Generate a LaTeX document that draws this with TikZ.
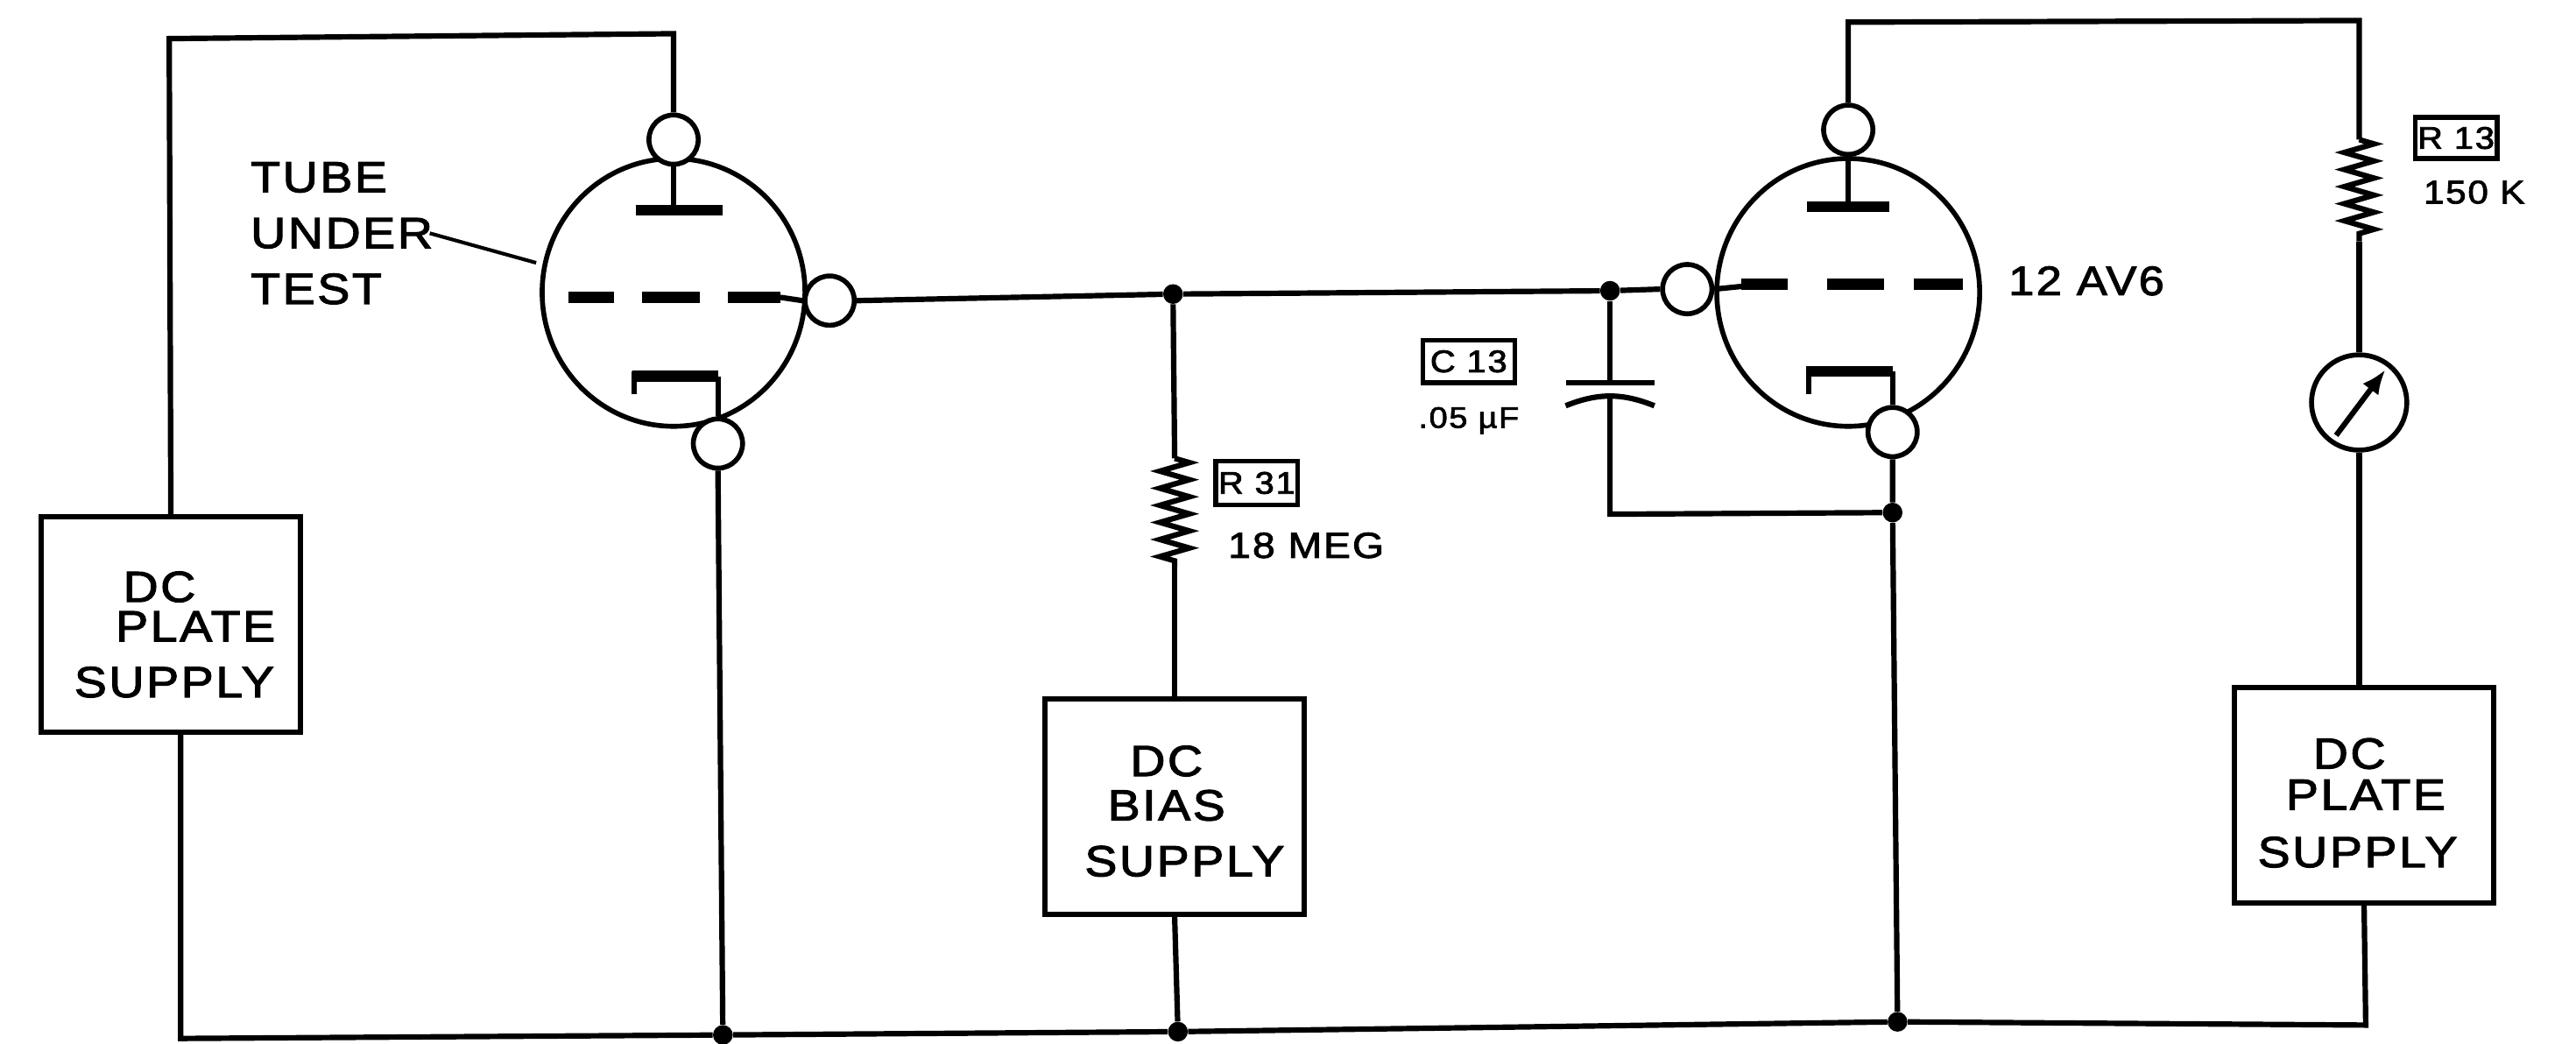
\documentclass[tikz,border=0pt]{standalone}
\usepackage{fontspec}
\setmainfont[FakeStretch=1.12,LetterSpace=5,FakeBold=2.2]{Liberation Sans}
\usepackage{tikz}
\usetikzlibrary{shapes, arrows, arrows.meta}
\usetikzlibrary{positioning, decorations.pathmorphing}
\tikzstyle{wire} = [line width = 3.3]
\tikzstyle{tube} = [
  ellipse, minimum width = 160, minimum height = 163, inner sep = 0,
  line width = 3, draw = black
]
\tikzstyle{lead} = [
  circle, minimum size = 30, inner sep = 0, line width = 3, draw = black,
  fill = white
]
\tikzstyle{dot} = [circle, minimum size = 12, inner sep = 0, fill = black]
\tikzstyle{supply} = [
  rectangle, minimum width = 158, minimum height = 131, inner sep = 0,
  line width = 3.3, draw = black, text centered, align = center,
  font = \fontsize{26.5}{31}\selectfont
]
\tikzstyle{tag} = [
  rectangle, inner sep = 0, line width = 2.8, draw = black, text centered,
  font = \fontsize{19}{23}\selectfont
]
\tikzstyle{textarea} = [
  rectangle, inner sep = 0, align = left,
  font = \fontsize{26.5}{34}\selectfont
]
\tikzstyle{value} = [
  rectangle, inner sep = 0, font = \fontsize{20}{24}\selectfont
]
\tikzstyle{bar} = [line width = 6.5]
\tikzstyle{coil} = [
  wire, decorate,
  decoration = {zigzag, segment length = 10.4, amplitude = 9}
]

\begin{document}
\begin{tikzpicture}[node distance = 0, x = 1pt, y = 1pt]
    \useasboundingbox (0, 0) rectangle (1568, -635);
    % tube-0
    \node [tube] (tube-0) at (410, -178) {};
    \node [lead, above of = tube-0, yshift = 93] (lead-0-a) {};
    \node [lead, below of = tube-0, xshift = 27, yshift = -92] (lead-0-b) {};
    \node [lead, right of = tube-0, xshift = 95, yshift = -5] (lead-0-c) {};
    % tube-1
    \node [tube, right of = tube-0, xshift = 715] (tube-1) {};
    \node [lead, above of = tube-1, yshift = 99] (lead-1-a) {};
    \node [lead, below of = tube-1, xshift = 27, yshift = -85] (lead-1-b) {};
    \node [lead, left of = tube-1, xshift = -98, yshift = 2] (lead-1-c) {};
    % supplies
    \node [supply, below of = tube-0, xshift = -306, yshift = -202]
      (box-0) {\rule{0pt}{31pt}\hspace{-14pt}DC\\[-7pt]\hspace{30pt}PLATE\\[3pt]\hspace{4pt}SUPPLY};
    \node [supply, below of = tube-0, xshift = 305, yshift = -313]
      (box-1) {\rule{0pt}{24pt}\hspace{-10pt}DC\\[-4pt]\hspace{-10pt}BIAS\\[3pt]\hspace{12pt}SUPPLY};
    \node [supply, below of = tube-1, xshift = 314, yshift = -306]
      (box-2) {\rule{0pt}{28pt}\hspace{-18pt}DC\\[-6pt]\hspace{2pt}PLATE\\[4pt]\hspace{-8pt}SUPPLY};
    % meter
    \node [lead, minimum size = 58, right of = tube-1, xshift = 311, yshift = -67]
      (meter) {};
    % junctions
    \node [dot, right of = tube-0, xshift = 304, yshift = -1] (dot-a) {};
    \node [dot, right of = dot-a, xshift = 266, yshift = 2] (dot-b) {};
    \node [dot, below of = lead-1-b, yshift = -49] (dot-c) {};
    \node [dot, below of = lead-0-b, xshift = 3, yshift = -360] (dot-d) {};
    \node [dot, right of = dot-d, xshift = 277, yshift = 2] (dot-e) {};
    \node [dot, right of = dot-e, xshift = 438, yshift = 6] (dot-f) {};
    % resistors
    \node [coordinate, below of = dot-a, xshift = 1, yshift = -100] (res-0-a) {};
    \node [coordinate, below of = res-0-a, yshift = -66] (res-0-b) {};
    \node [coordinate, above of = meter, yshift = 160] (res-1-a) {};
    \node [coordinate, below of = res-1-a, yshift = -62] (res-1-b) {};
    % capacitor
    \node [coordinate, below of = dot-b, yshift = -56] (cap-a) {};
    \node [coordinate, below of = cap-a, yshift = -9] (cap-b) {};
    % texts
    \node [textarea, left of = tube-0, xshift = -202, yshift = 36]
      (text-under-test) {TUBE\\UNDER\\TEST};
    \node [textarea, font = \fontsize{25}{34}\selectfont, right of = tube-1,
      xshift = 145, yshift = 7] (text-12av6) {12 AV6};
    \node [tag, minimum width = 50, minimum height = 25, right of = res-1-a,
      xshift = 59, yshift = 1] (tag-r13) {R 13};
    \node [value, below of = tag-r13, xshift = 11, yshift = -33] (value-r13) {150 K};
    \node [tag, minimum width = 50, minimum height = 27, right of = res-0-a,
      xshift = 50, yshift = -15] (tag-r31) {R 31};
    \node [value, font = \fontsize{22}{24}\selectfont, below of = tag-r31,
      xshift = 30, yshift = -38] (value-r31) {18 MEG};
    \node [tag, minimum width = 56, minimum height = 26, left of = cap-a,
      xshift = -86, yshift = 13] (tag-c13) {C 13};
    \node [value, font = \fontsize{18}{22}\selectfont, below of = tag-c13,
      yshift = -36] (value-c13) {.05 µF};

    % plate wiring
    \draw [wire] (lead-0-a.north) -- +(0, 48) -- +(-307, 45) -- (box-0.north);
    \draw [wire] (lead-1-a.north) -- +(0, 49) -- +(311, 50) -- (res-1-a);
    \draw [coil] (res-1-a) -- (res-1-b);
    \draw [wire] (res-1-b) -- (meter.north);
    \draw [wire] (meter.south) -- (meter.south |- box-2.north);
    \draw [wire, -{Latex[length = 15, width = 12]}] (meter) ++(-14, -20) -- +(30, 40);
    % grid wiring
    \draw [wire] (lead-0-c.east) -- (dot-a) -- (dot-b) -- (lead-1-c.west);
    \draw [wire] (dot-a) -- (res-0-a);
    \draw [coil] (res-0-a) -- (res-0-b);
    \draw [wire] (res-0-b) -- (box-1.north);
    % capacitor
    \draw [wire] (dot-b) -- (cap-a);
    \draw [wire] (cap-a) ++(-27, 0) -- +(54, 0);
    \draw [wire] (cap-b) ++(-27, -5) to [bend left = 22] +(54, 0);
    \draw [wire] (cap-b) -- +(0, -71) -- (dot-c);
    % bottom rail
    \draw [wire] ([xshift = 6]box-0.south) -- +(0, -185) -- (dot-d) -- (dot-e) --
    (dot-f) -- +(285, -2) -- (box-2.south);
    \draw [wire] (lead-0-b.south) -- (dot-d);
    \draw [wire] (box-1.south) -- (dot-e);
    \draw [wire] (lead-1-b.south) -- (dot-c) -- (dot-f);
    % tube-0 inside
    \draw [wire] (lead-0-a.south) -- +(0, -27);
    \draw [bar] (tube-0) ++(-23, 50) -- +(53, 0);
    \draw [bar] (tube-0) ++(-64, -3) -- +(28, 0);
    \draw [bar] (tube-0) ++(-19, -3) -- +(35, 0);
    \draw [bar] (tube-0) ++(33, -3) -- +(32, 0);
    \draw [wire] (tube-0) ++(65, -3) -- (lead-0-c.west);
    \draw [bar] (tube-0) ++(-25, -51) -- +(52, 0);
    \draw [wire] (tube-0) ++(-24, -48) -- +(0, -14);
    \draw [wire] (tube-0) ++(27, -51) -- (lead-0-b.north);
    % tube-1 inside
    \draw [wire] (lead-1-a.south) -- +(0, -32);
    \draw [bar] (tube-1) ++(-25, 52) -- +(50, 0);
    \draw [bar] (tube-1) ++(-65, 5) -- +(28, 0);
    \draw [bar] (tube-1) ++(-13, 5) -- +(35, 0);
    \draw [bar] (tube-1) ++(40, 5) -- +(30, 0);
    \draw [wire] (lead-1-c.east) -- +(20, 2);
    \draw [bar] (tube-1) ++(-25, -48) -- +(52, 0);
    \draw [wire] (tube-1) ++(-24, -45) -- +(0, -17);
    \draw [wire] (tube-1) ++(27, -48) -- (lead-1-b.north);
    % leader
    \draw [wire, line width = 2.2, shorten > = 4] (text-under-test.east) ++(-2, 0) --
    (tube-0.168);
  \end{tikzpicture}
\end{document}
